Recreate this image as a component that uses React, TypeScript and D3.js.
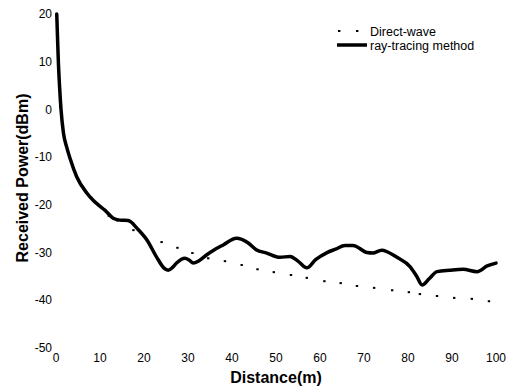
import React from "react";
import * as d3 from "d3";

const W = 509;
const H = 387;

// ray-tracing method (solid)
const rtDist = [0.17, 0.35, 0.52, 0.8, 1.14, 1.7, 2.4, 3.2, 4.7, 7.0, 8.5, 9.6, 11.1, 13, 14.5, 16.4, 18.5, 20.7, 22.9, 24.5, 25.5, 26.5, 27.4, 29.3, 30.3, 31.2, 32.5, 34.2, 36, 38, 41, 43.7, 45.5, 47.9, 50.9, 53.2, 55, 57, 59, 61.6, 63.5, 65.7, 67.5, 70.7, 72, 74, 77.5, 80.5, 82, 83.2, 84.8, 86.6, 89.5, 92.5, 95.7, 98, 100];
const rtPower = [20, 15, 10.4, 5, 0, -5, -7.8, -10.3, -14.1, -17.5, -19.1, -20, -21.1, -22.8, -23.2, -23.3, -25, -27.4, -31, -33.2, -33.7, -33.1, -32.2, -31.2, -31.6, -32.2, -31.7, -30.5, -29.4, -28.4, -27, -28, -29.4, -30.1, -31, -30.8, -31.8, -33.2, -31.5, -30, -29.3, -28.5, -28.5, -30, -30.1, -29.5, -31, -33, -35, -36.8, -35.5, -34, -33.7, -33.5, -34, -32.8, -32.2];

// direct-wave (dotted)
const dwDist = [1, 4, 8, 12, 14, 17.6, 24, 27.6, 31, 34.6, 38.4, 42.2, 45.8, 49.5, 53.4, 57, 61, 64.7, 68.4, 72.3, 76.4, 80.2, 82.7, 86.6, 90.5, 94.5, 98.4];
const dwPower = [0.5, -12.5, -18.5, -22.3, -23.3, -25.3, -27.8, -29, -30.1, -31.2, -31.8, -32.6, -33.5, -34.1, -34.7, -35.3, -36, -36.4, -37, -37.4, -37.9, -38.3, -38.7, -39.1, -39.5, -39.7, -40.2];

const xTicks = [0, 10, 20, 30, 40, 50, 60, 70, 80, 90, 100];
const yTicks = [20, 10, 0, -10, -20, -30, -40, -50];

const seriesNames = ["Direct-wave", "ray-tracing method"];
const xTitle = "Distance(m)";
const yTitle = "Received Power(dBm)";

export default function App() {
  const x = d3.scaleLinear().domain([0, 100]).range([56, 496]);
  const y = d3.scaleLinear().domain([-50, 20]).range([348, 14]);

  const rt = rtDist.map((d, i) => [d, rtPower[i]] as [number, number]);
  const dw = dwDist.map((d, i) => [d, dwPower[i]] as [number, number]);

  const line = d3
    .line<[number, number]>()
    .x((d) => x(d[0]))
    .y((d) => y(d[1]))
    .curve(d3.curveMonotoneX);

  const font = "Liberation Sans, Arial, sans-serif";

  return (
    <svg
      width={W}
      height={H}
      style={{ position: "absolute", left: 0, top: 0, background: "#fff" }}
      fontFamily={font}
    >
      <rect x={0} y={0} width={W} height={H} fill="#fff" />
      {yTicks.map((t) => (
        <text
          key={"y" + t}
          x={52}
          y={y(t)}
          dy="0.35em"
          textAnchor="end"
          fontSize={12}
          fill="#000"
        >
          {t}
        </text>
      ))}
      {xTicks.map((t) => (
        <text
          key={"x" + t}
          x={x(t)}
          y={362}
          textAnchor="middle"
          fontSize={12}
          fill="#000"
        >
          {t}
        </text>
      ))}
      <text
        x={276}
        y={383}
        textAnchor="middle"
        fontSize={16}
        fontWeight="bold"
        fill="#000"
      >
        {xTitle}
      </text>
      <text
        transform={`translate(28,178) rotate(-90)`}
        textAnchor="middle"
        fontSize={16}
        fontWeight="bold"
        fill="#000"
      >
        {yTitle}
      </text>

      {dw.map((d, i) => (
        <rect
          key={"dw" + i}
          x={x(d[0]) - 1.2}
          y={y(d[1]) - 1}
          width={2.4}
          height={2}
          fill="#000"
        />
      ))}

      <path
        d={line(rt) || ""}
        fill="none"
        stroke="#000"
        strokeWidth={3.5}
        strokeLinejoin="round"
        strokeLinecap="round"
      />

      <rect x={338} y={30} width={2.4} height={2} fill="#000" />
      <rect x={356} y={30} width={2.4} height={2} fill="#000" />
      <text x={370} y={35.5} fontSize={12.5} fill="#000">
        {seriesNames[0]}
      </text>
      <line x1={337} x2={367} y1={45} y2={45} stroke="#000" strokeWidth={3.5} />
      <text x={370} y={49.5} fontSize={12.5} fill="#000">
        {seriesNames[1]}
      </text>
    </svg>
  );
}
